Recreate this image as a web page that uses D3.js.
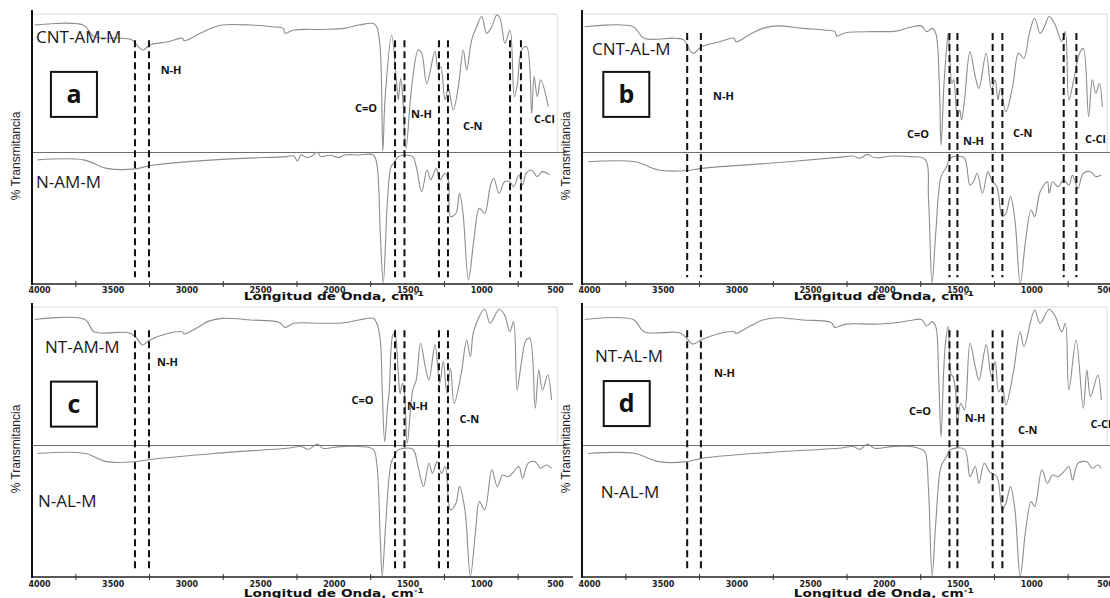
<!DOCTYPE html>
<html>
<head>
<meta charset="utf-8">
<script src="https://cdn.jsdelivr.net/npm/d3@7"></script>
<style>
  body { margin: 0; background: #fff; }
  svg { display: block; }
</style>
</head>
<body>
<svg id="chart" width="1110" height="598"></svg>
<script>
// spectra: [wavenumber cm-1, % transmitance (stacked, arbitrary units)]
const cntAmM = [[4030,94.5],[3700,94.5],[3627,90.3],[3432,89.7],[3371,89.1],[3297,85.4],[3248,87.2],[3126,88.4],[3028,89.7],[3016,88.8],
  [2906,91.5],[2833,93.3],[2760,94.5],[2564,94.5],[2418,93.9],[2344,93.3],[2332,91.5],[2271,92.7],[2076,92.9],[1929,93.3],[1831,94.5],
  [1733,95.1],[1709,93.9],[1685,85.4],[1668,48.5],[1653,67.2],[1608,90.9],[1574,73.2],[1563,67.2],[1547,75.1],[1533,68.4],[1511,49.5],
  [1472,72],[1427,85.4],[1404,84.2],[1370,73.2],[1314,84.8],[1292,78.1],[1275,79.3],[1246,67.2],[1224,71.4],[1190,63.5],[1156,72],
  [1122,85.4],[1099,78.1],[1065,89.1],[1031,93.9],[997,97.6],[963,91.5],[929,93.9],[895,98.2],[873,97],[839,87.8],[805,92.7],[776,68.4],
  [756,72.6],[726,85.4],[692,86.6],[658,62.3],[642,75.7],[620,68.4],[597,74.5],[545,64.7]];
const nAmM = [[4011,45.3],[3700,45.3],[3542,42.2],[3346,42],[3248,43.2],[2809,45.3],[2320,46.5],[2271,46.7],[2247,44.9],[2222,47.1],
  [2185,46.2],[2149,46.7],[2112,48.1],[2088,46.5],[2027,47],[1966,46.2],[1929,47.1],[1831,47.1],[1733,47.1],[1709,44],[1685,18.5],
  [1665,0.3],[1636,30.7],[1612,42.8],[1587,44.6],[1563,46.5],[1514,47.1],[1465,46.5],[1441,42.8],[1404,33.7],[1368,41.6],[1343,38],
  [1306,42.2],[1282,38],[1245,40.4],[1221,37.3],[1209,24.6],[1172,25.8],[1148,33.1],[1124,25.8],[1087,1.5],[1050,16.1],[1013,27.6],
  [977,25.8],[940,35.5],[916,38.6],[879,33.1],[842,37.3],[806,37.3],[781,35.5],[745,39.8],[720,36.1],[696,40.4],[659,41.6],[622,39.2],
  [585,41],[537,39.8]];
const cntAlM = [[4030,93.9],[3700,93.9],[3627,89.7],[3420,89.7],[3358,89.1],[3297,84.2],[3236,86.6],[3114,88.4],[3016,89.7],[3004,88.4],
  [2894,91.5],[2821,93.3],[2724,94.2],[2552,93.3],[2405,92.7],[2332,92.1],[2320,90.5],[2259,91.7],[2063,92.1],[1917,92.3],[1820,93.7],
  [1746,94.2],[1709,92.1],[1673,93.3],[1648,91.5],[1624,73.2],[1612,50.7],[1592,73.2],[1575,85.4],[1563,91.5],[1538,73.2],[1526,74.5],
  [1502,61.1],[1485,63.5],[1473,59.9],[1453,67.2],[1416,84.8],[1380,75.7],[1355,71.4],[1306,84.2],[1270,70.8],[1245,74.5],[1226,67.2],
  [1209,71.4],[1172,62.9],[1123,73.2],[1087,84.2],[1050,82.4],[1013,91.5],[977,97],[940,91.5],[911,93.9],[879,97.6],[842,95.1],[793,88.4],
  [769,92.1],[745,67.2],[708,75.7],[672,84.2],[647,86],[611,61.1],[586,74.5],[562,69.6],[538,73.2],[518,64.7]];
const nAlMb = [[4006,44.6],[3688,44.6],[3530,41.6],[3334,41.4],[3236,42.2],[2797,44],[2308,46.2],[2210,46.7],[2161,45.9],[2112,47.3],
  [2063,46.1],[1941,46.7],[1819,46.5],[1721,45.5],[1697,30.7],[1673,0.3],[1648,18.5],[1612,39.2],[1575,42.8],[1551,45.9],[1502,46.7],
  [1453,45.9],[1416,36.1],[1392,37.3],[1367,40.4],[1331,33.1],[1294,41],[1270,38],[1233,35.5],[1197,24.6],[1172,25.8],[1141,31.9],
  [1111,23.4],[1075,0.3],[1038,16.1],[1001,27],[977,24.6],[940,33.7],[891,37.3],[879,33.1],[855,37.3],[818,35.5],[781,38],[745,36.1],
  [720,39.8],[684,34.9],[647,40.4],[598,41],[562,39.2],[525,39.8]];
const ntAmM = [[4030,94],[3688,94],[3627,89.5],[3395,89.2],[3346,87.7],[3297,84.7],[3248,86.5],[3126,88.9],[3028,89.5],[3016,88.7],
  [2906,91.6],[2858,93.2],[2760,94.4],[2564,93.8],[2369,92.9],[2332,91.1],[2271,92.6],[2076,92.6],[1929,92.8],[1831,93.8],[1733,94.4],
  [1709,92.6],[1685,86.5],[1672,68.2],[1655,49.4],[1636,62.2],[1624,68.2],[1600,88.3],[1587,88.9],[1563,74.3],[1551,67],[1534,70.7],
  [1519,65.8],[1502,48.8],[1465,68.2],[1441,71.9],[1412,85.3],[1380,76.8],[1355,71.9],[1314,84.7],[1282,70.7],[1258,78.6],[1233,67],
  [1209,76.2],[1184,63.4],[1136,74.3],[1099,86.5],[1074,80.4],[1050,90.1],[977,97.7],[940,92.6],[879,97.7],[842,95.6],[806,89.5],
  [781,93.2],[757,68.2],[732,76.8],[696,86.5],[671,87.1],[634,61.6],[610,75.5],[585,68.2],[549,73.7],[524,64.6]];
const nAlMc = [[4011,45.1],[3688,45.1],[3542,42.1],[3346,42.1],[3248,42.9],[2809,45.1],[2320,47],[2222,47.6],[2173,46.6],[2112,48.5],
  [2076,47],[1953,47.6],[1831,47.6],[1733,46.6],[1709,41.5],[1685,13.5],[1672,0.3],[1648,19.6],[1612,41.5],[1587,44.5],[1563,46.4],
  [1465,46.6],[1429,40.3],[1392,33],[1355,41.5],[1331,37.8],[1299,42.1],[1270,37.8],[1245,40.3],[1209,24.5],[1172,26.9],[1148,33],
  [1111,24.5],[1074,0.3],[1038,17.2],[1013,27.5],[977,24.5],[928,39.1],[891,33],[855,37.2],[818,36.6],[781,38.4],[745,40.3],[720,36],
  [683,41.5],[634,42.1],[598,39.7],[561,40.9],[524,39.7]];
const ntAlM = [[4030,94],[3700,94],[3627,89.5],[3395,89.2],[3346,87.7],[3297,85],[3236,86.7],[3114,88.9],[3016,89.5],[3004,88.9],
  [2894,92],[2821,93.8],[2724,94.6],[2552,93.8],[2357,92.9],[2332,91.1],[2259,92.3],[2063,92.3],[1917,92.8],[1820,93.6],[1746,94],
  [1709,91.6],[1673,93.2],[1648,91.4],[1629,74.3],[1612,51.2],[1595,74.3],[1580,86.5],[1563,91.4],[1546,74.3],[1531,73.1],[1514,68.2],
  [1502,56.1],[1478,63.4],[1453,60.9],[1416,85.3],[1380,76.8],[1355,71.9],[1306,84.7],[1270,73.1],[1245,78.6],[1221,67.6],[1197,69.5],
  [1172,62.8],[1123,74.3],[1075,89.5],[1050,84.1],[977,97.4],[940,92.6],[879,97.7],[842,95.6],[793,89.5],[769,92.6],[745,68.2],
  [696,86.5],[647,61.6],[623,75.5],[598,65.8],[549,73.7],[525,64.6]];
const nAlMd = [[4006,45.1],[3688,45.1],[3530,42.1],[3334,42.1],[3236,43.3],[2797,45.4],[2308,47],[2210,47.6],[2161,46.6],[2112,48.5],
  [2063,47],[1941,47.6],[1819,47.6],[1746,46.6],[1721,45.7],[1697,31.7],[1673,0.3],[1648,19.6],[1612,40.3],[1575,43.9],[1551,46.4],
  [1453,46.6],[1416,36.6],[1380,40.3],[1355,34.2],[1319,41.5],[1282,38.4],[1233,36.6],[1197,24.5],[1172,26.9],[1141,33],[1111,24.5],
  [1075,0.3],[1038,17.2],[1001,27.5],[977,25.7],[928,39.1],[891,34.2],[855,37.2],[818,36.6],[781,38.4],[745,40.3],[720,35.4],[684,41.5],
  [623,42.1],[586,39.7],[549,40.9],[525,39.7]];

// band markers (dashed pairs), cm-1
const bandsA = [3349, 3254, 1585, 1521, 1287, 1226, 805, 731];
const bandsB = [3334, 3241, 1555, 1501, 1262, 1196, 780, 694];
const bandsC = [3349, 3254, 1585, 1521, 1287, 1226];
const bandsD = [3334, 3241, 1555, 1501, 1262, 1196];

// band notes: [text, wavenumber, transmitance]
const notesA = [['N-H', 3175, 76.6], ['C=O', 1857, 62.8], ['N-H', 1477, 60.6], ['C-N', 1124, 56.2], ['C-Cl', 642, 58.8]];
const notesB = [['N-H', 3159, 67.2], ['C=O', 1843, 53.3], ['N-H', 1463, 50.7], ['C-N', 1124, 53.6], ['C-Cl', 636, 51.5]];
const notesC = [['N-H', 3200, 77.0], ['C=O', 1880, 63.1], ['N-H', 1504, 60.9], ['C-N', 1147, 56.3]];
const notesD = [['N-H', 3152, 73.0], ['C=O', 1829, 59.1], ['N-H', 1452, 56.7], ['C-N', 1090, 52.2], ['C-Cl', 598, 54.4]];

const tickLabels = [4000, 3500, 3000, 2500, 2000, 1500, 1000, 500];
const tickMarks = [3750, 3250, 2750, 2250, 1750, 1250, 750];

const panels = [
  { dx: 0,   dy: 0,   letter: 'a', upper: cntAmM, lower: nAmM,  upName: 'CNT-AM-M', upPos: [4020, 88],   loName: 'N-AM-M', loPos: [4020, 35],
    bands: bandsA, dashTop: 89, notes: notesA, box: [3763, 69.2], tickPad: 3, titleDy: 16 },
  { dx: 550, dy: 0,   letter: 'b', upper: cntAlM, lower: nAlMb, upName: 'CNT-AL-M', upPos: [3980, 83.6], loName: null,
    bands: bandsB, dashTop: 91.6, notes: notesB, box: [3747, 69.2], tickPad: 3, titleDy: 16 },
  { dx: 0,   dy: 293, letter: 'c', upper: ntAmM,  lower: nAlMc, upName: 'NT-AM-M',  upPos: [3959, 81.8], loName: 'N-AL-M', loPos: [4007, 25.5],
    bands: bandsC, dashTop: 90.1, notes: notesC, box: [3763, 63.1], tickPad: 4, titleDy: 20 },
  { dx: 550, dy: 293, letter: 'd', upper: ntAlM,  lower: nAlMd, upName: 'NT-AL-M',  upPos: [3959, 78.5], loName: 'N-AL-M', loPos: [3921, 28.8],
    bands: bandsD, dashTop: 90.1, notes: notesD, box: [3744, 63.3], tickPad: 4, titleDy: 20 }
];

const svg = d3.select('#chart');
const x = d3.scaleLinear().domain([4000, 500]).range([39, 555]);
const y = d3.scaleLinear().domain([0, 100]).range([284, 10]);
const line = d3.line()
  .x(d => x(d[0]))
  .y(d => y(d[1]))
  .curve(d3.curveCatmullRom.alpha(0.5));

panels.forEach(p => {
  const g = svg.append('g').attr('transform', `translate(${p.dx},${p.dy})`);

  // light frame of the original plot
  g.append('path')
    .attr('d', `M${x(4041)},${y(98.5)}H${x(485)}V${y(48)}`)
    .attr('fill', 'none')
    .attr('stroke', '#dcdcdc')
    .attr('stroke-width', 1);

  // divider between the two stacked spectra
  g.append('line')
    .attr('x1', x(4041)).attr('x2', x(420))
    .attr('y1', y(48)).attr('y2', y(48))
    .attr('stroke', '#6f6f6f')
    .attr('stroke-width', 1.2);

  [p.upper, p.lower].forEach(s => {
    g.append('path')
      .datum(s)
      .attr('d', line)
      .attr('fill', 'none')
      .attr('stroke', '#8d8d8d')
      .attr('stroke-width', 1.1);
  });

  // dashed band markers
  g.selectAll('.band')
    .data(p.bands)
    .enter().append('line')
    .attr('x1', d => x(d)).attr('x2', d => x(d))
    .attr('y1', y(p.dashTop)).attr('y2', y(2.5))
    .attr('stroke', '#111')
    .attr('stroke-width', 2)
    .attr('stroke-dasharray', '7,4');

  // x axis
  const ax = g.append('g')
    .attr('transform', `translate(0,${y(0)})`)
    .call(d3.axisBottom(x).tickValues(tickLabels).tickSize(0).tickPadding(p.tickPad).tickFormat(d3.format('d')));
  ax.select('.domain').remove();
  ax.selectAll('text')
    .attr('font-family', 'DejaVu Sans, sans-serif')
    .attr('font-weight', 'bold')
    .attr('font-size', 8)
    .attr('fill', '#222');

  g.append('line')
    .attr('x1', 32).attr('x2', x(500) + 18)
    .attr('y1', y(0)).attr('y2', y(0))
    .attr('stroke', '#222')
    .attr('stroke-width', 1.6);
  g.selectAll('.tk')
    .data(tickMarks)
    .enter().append('line')
    .attr('x1', d => x(d)).attr('x2', d => x(d))
    .attr('y1', y(0) - 3).attr('y2', y(0) + 3)
    .attr('stroke', '#333')
    .attr('stroke-width', 1);

  // y axis
  g.append('line')
    .attr('x1', 32).attr('x2', 32)
    .attr('y1', y(100)).attr('y2', y(0) + 1)
    .attr('stroke', '#111')
    .attr('stroke-width', 2);

  g.append('text')
    .attr('transform', `translate(16,${(y(0) + y(100)) / 2 + 9}) rotate(-90)`)
    .attr('text-anchor', 'middle')
    .attr('dy', '0.35em')
    .attr('font-family', 'Liberation Sans, Arial, sans-serif')
    .attr('font-size', 12)
    .attr('fill', '#222')
    .text('% Transmitancia');

  const title = g.append('text')
    .attr('x', x(2000) - 90)
    .attr('y', y(0) + p.titleDy)
    .attr('textLength', 180)
    .attr('lengthAdjust', 'spacingAndGlyphs')
    .attr('font-family', 'DejaVu Sans, sans-serif')
    .attr('font-weight', 'bold')
    .attr('font-size', 10.5)
    .attr('fill', '#111')
    .text('Longitud de Onda, cm');
  title.append('tspan')
    .attr('dy', -4)
    .attr('font-size', 7)
    .text('-1');

  // sample names
  g.append('text')
    .attr('x', x(p.upPos[0])).attr('y', y(p.upPos[1]))
    .attr('font-family', 'Open Sans, sans-serif')
    .attr('font-size', 17)
    .attr('fill', '#1a1a1a')
    .text(p.upName);
  if (p.loName) {
    g.append('text')
      .attr('x', x(p.loPos[0])).attr('y', y(p.loPos[1]))
      .attr('font-family', 'Open Sans, sans-serif')
      .attr('font-size', 17)
      .attr('fill', '#1a1a1a')
      .text(p.loName);
  }

  // panel letter in a box
  const bx = x(p.box[0]), by = y(p.box[1]);
  g.append('rect')
    .attr('x', bx - 23).attr('y', by - 22.5)
    .attr('width', 46).attr('height', 45)
    .attr('fill', '#fff')
    .attr('stroke', '#111')
    .attr('stroke-width', 2);
  g.append('text')
    .attr('x', bx).attr('y', by)
    .attr('dy', '0.35em')
    .attr('text-anchor', 'middle')
    .attr('font-family', 'Open Sans, sans-serif')
    .attr('font-weight', 'bold')
    .attr('font-size', 25)
    .attr('fill', '#111')
    .text(p.letter);

  // band notes
  g.selectAll('.note')
    .data(p.notes)
    .enter().append('text')
    .attr('x', d => x(d[1])).attr('y', d => y(d[2]))
    .attr('font-family', 'Open Sans, sans-serif')
    .attr('font-weight', 'bold')
    .attr('font-size', 11)
    .attr('fill', '#111')
    .text(d => d[0]);
});
</script>
</body>
</html>
